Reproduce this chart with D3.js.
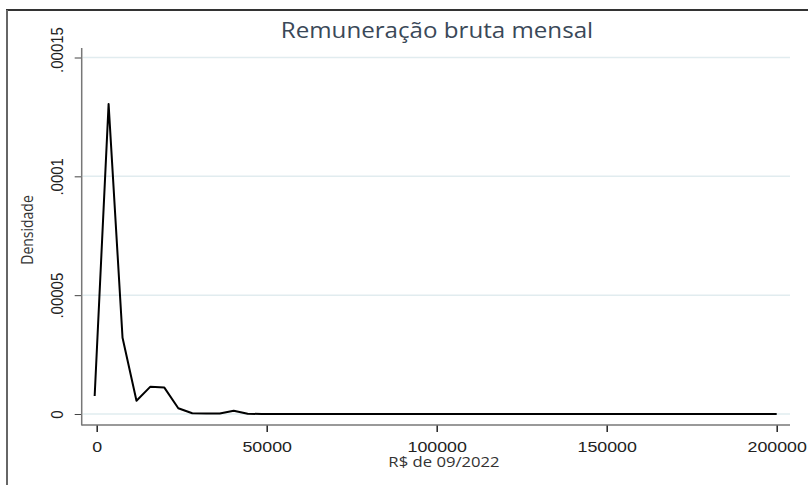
<!DOCTYPE html>
<html>
<head>
<meta charset="utf-8">
<script src="https://cdn.jsdelivr.net/npm/d3@7"></script>
<style>
  body { margin: 0; background: #fff; }
  svg { display: block; font-family: "Open Sans", "Noto Sans", sans-serif; }
</style>
</head>
<body>
<div id="chart"></div>
<script>
// kdensity evaluation points (R$) and estimated density
var remuneracao = [-600, 3500, 7600, 11700, 15800, 19900, 24000, 28100, 32200, 36200,
    40300, 44400, 48500, 52600, 56700, 60800, 64900, 69000, 73100, 77200,
    81300, 85400, 89500, 93600, 97700, 101800, 105900, 110000, 114000, 118100,
    122200, 126300, 130400, 134500, 138600, 142700, 146800, 150900, 155000, 159100,
    163200, 167300, 171400, 175500, 179600, 183700, 187800, 191900, 195900, 200000];
var densidade = [0.0000076, 0.0001304, 0.0000321, 0.0000056, 0.0000115, 0.0000111, 0.0000024, 0.0000003, 0.0000002, 0.0000002,
    0.0000014, 0.0000001, 0, 0, 0, 0, 0, 0, 0, 0,
    0, 0, 0, 0, 0, 0, 0, 0, 0, 0,
    0, 0, 0, 0, 0, 0, 0, 0, 0, 0,
    0, 0, 0, 0, 0, 0, 0, 0, 0, 0];
var xTicks = [0, 50000, 100000, 150000, 200000];
var yTicks = [0, 0.00005, 0.0001, 0.00015];
var yTickLabels = ["0", ".00005", ".0001", ".00015"];

var width = 808, height = 485;
var sx = 1.15; // the screenshot is a bit stretched sideways, text too

var svg = d3.select("#chart").append("svg")
    .attr("width", width)
    .attr("height", height);

// outer frame (only top and left visible in the crop)
svg.append("line").attr("x1", 6).attr("x2", width).attr("y1", 10).attr("y2", 10)
    .attr("stroke", "#333").attr("stroke-width", 2);
svg.append("line").attr("x1", 7).attr("x2", 7).attr("y1", 10).attr("y2", height)
    .attr("stroke", "#666").attr("stroke-width", 2);

var plot = {left: 81.7, right: 790, top: 48, bottom: 425};

var x = d3.scaleLinear().domain([0, 200000]).range([96.7, 776.7]);
var y = d3.scaleLinear().domain([0, 0.00015]).range([414, 57.5]);

// grid
svg.append("g").selectAll("line")
    .data(yTicks)
    .enter().append("line")
    .attr("x1", plot.left + 1).attr("x2", plot.right)
    .attr("y1", function(d) { return y(d); })
    .attr("y2", function(d) { return y(d); })
    .attr("stroke", "#e1ecef").attr("stroke-width", 1.5);

// axes
var yAxis = svg.append("g")
    .attr("transform", "translate(" + plot.left + ",0)")
    .call(d3.axisLeft(y).tickValues(yTicks).tickSize(7)
        .tickFormat(function(d, i) { return yTickLabels[i]; }));
yAxis.select(".domain").remove();
yAxis.selectAll("line").attr("stroke", "#444");
yAxis.selectAll("text")
    .attr("transform", function(d, i) {
        // top label sits a little higher, as in the original
        var shift = i == yTicks.length - 1 ? -8 : 0;
        return "translate(-18.4," + shift + ") scale(" + sx + ",1) rotate(-90)";
    })
    .attr("text-anchor", "middle")
    .attr("x", 0).attr("y", 0).attr("dy", 0)
    .attr("font-size", 15).attr("fill", "#222");

var xAxis = svg.append("g")
    .attr("transform", "translate(0," + plot.bottom + ")")
    .call(d3.axisBottom(x).tickValues(xTicks).tickSize(7)
        .tickFormat(d3.format("d")));
xAxis.select(".domain").remove();
xAxis.selectAll("line").attr("stroke", "#222").attr("stroke-width", 1.5);
xAxis.selectAll("text")
    .attr("y", 0).attr("dy", 0)
    .attr("transform", "translate(0,26.5) scale(" + sx + ",1)")
    .attr("font-size", 15.5).attr("fill", "#222");

svg.append("line").attr("x1", plot.left).attr("x2", plot.left)
    .attr("y1", plot.top).attr("y2", plot.bottom + 0.5)
    .attr("stroke", "#777").attr("stroke-width", 1.5);
svg.append("line").attr("x1", plot.left).attr("x2", plot.right)
    .attr("y1", plot.bottom).attr("y2", plot.bottom)
    .attr("stroke", "#777").attr("stroke-width", 1.5);

// density curve
var line = d3.line()
    .x(function(d, i) { return x(remuneracao[i]); })
    .y(function(d) { return y(d); });

svg.append("path")
    .datum(densidade)
    .attr("d", line)
    .attr("fill", "none")
    .attr("stroke", "#000")
    .attr("stroke-width", 2)
    .attr("stroke-linejoin", "round");

// titles
svg.append("text")
    .attr("transform", "translate(437,38.3) scale(" + sx + ",1)")
    .attr("text-anchor", "middle")
    .attr("font-size", 21).attr("fill", "#3a4858")
    .text("Remuneração bruta mensal");

svg.append("text")
    .attr("transform", "translate(444,466.7) scale(" + sx + ",1)")
    .attr("text-anchor", "middle")
    .attr("font-size", 14.5).attr("fill", "#333")
    .text("R$ de 09/2022");

svg.append("text")
    .attr("transform", "translate(33.3,230) scale(" + sx + ",1) rotate(-90)")
    .attr("text-anchor", "middle")
    .attr("font-size", 14).attr("fill", "#333")
    .text("Densidade");
</script>
</body>
</html>
